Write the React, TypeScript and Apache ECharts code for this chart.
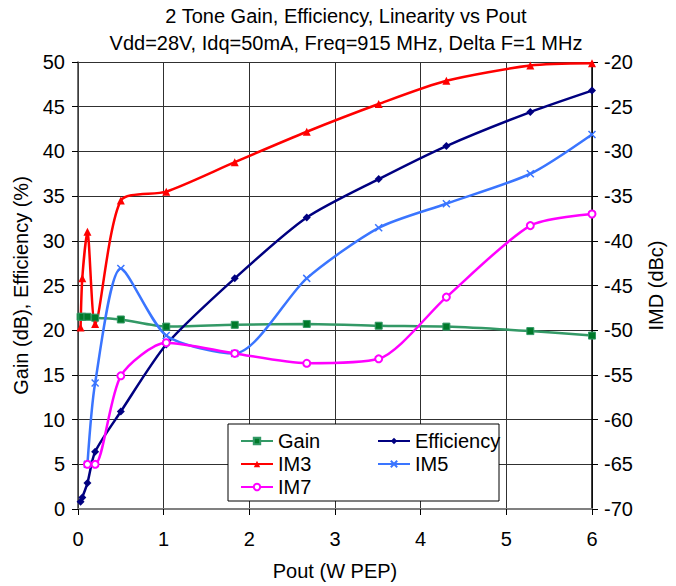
import React, { useEffect, useRef } from "react";
import * as echarts from "echarts";

const pout = [0.03, 0.05, 0.11, 0.2, 0.5, 1.03, 1.83, 2.67, 3.51, 4.3, 5.28, 6.0];
const gain = [21.5, 21.5, 21.5, 21.4, 21.2, 20.4, 20.6, 20.7, 20.5, 20.4, 19.9, 19.4];
const efficiency = [0.8, 1.3, 2.9, 6.4, 10.9, 18.4, 25.8, 32.6, 36.9, 40.6, 44.4, 46.8];
const im3 = [-49.7, -44.2, -39.0, -49.3, -35.5, -34.5, -31.2, -27.8, -24.7, -22.1, -20.4, -20.15];
const im5 = [null, null, -65, -55.9, -43.1, -50.6, -52.6, -44.2, -38.55, -35.85, -32.5, -28.1];
const im7 = [null, null, -65, -65, -55.1, -51.4, -52.6, -53.7, -53.2, -46.3, -38.3, -37.0];

const titleLines = [
  "2 Tone Gain, Efficiency, Linearity vs Pout",
  "Vdd=28V, Idq=50mA, Freq=915 MHz, Delta F=1 MHz",
];

const FONT = "'Liberation Sans', Arial, sans-serif";

function pairs(ys: (number | null)[]) {
  const out: [number, number][] = [];
  ys.forEach((y, i) => {
    if (y !== null) out.push([pout[i], y]);
  });
  return out;
}

export default function App() {
  const ref = useRef<HTMLDivElement>(null);
  useEffect(() => {
    if (!ref.current) return;
    const chart = echarts.init(ref.current, null, { renderer: "svg" });
    const lineW = 2.5;
    const smooth = 0.25;
    const legendText = { fontFamily: FONT, fontSize: 20, color: "#000", lineHeight: 20 };
    chart.setOption({
      animation: false,
      backgroundColor: "#fff",
      textStyle: { fontFamily: FONT, color: "#000" },
      grid: { left: 78, right: 84, top: 62, bottom: 73, containLabel: false },
      xAxis: {
        type: "value",
        min: 0,
        max: 6,
        interval: 1,
        name: "Pout (W PEP)",
        nameLocation: "middle",
        nameGap: 52,
        nameTextStyle: { fontFamily: FONT, fontSize: 20, color: "#000" },
        axisLine: { show: true, lineStyle: { color: "#808080", width: 2 } },
        axisTick: { show: true, length: 6, lineStyle: { color: "#000" } },
        axisLabel: { fontFamily: FONT, fontSize: 20, color: "#000", margin: 20 },
        splitLine: { show: true, lineStyle: { color: "#303030", width: 1 } },
      },
      yAxis: [
        {
          type: "value",
          min: 0,
          max: 50,
          interval: 5,
          position: "left",
          name: "Gain (dB), Efficiency (%)",
          nameLocation: "middle",
          nameGap: 47,
          nameRotate: 90,
          nameTextStyle: { fontFamily: FONT, fontSize: 20, color: "#000" },
          axisLine: { show: true, lineStyle: { color: "#404040", width: 1.5 } },
          axisTick: { show: true, length: 6, lineStyle: { color: "#000" } },
          axisLabel: { fontFamily: FONT, fontSize: 20, color: "#000", margin: 13 },
          splitLine: { show: true, lineStyle: { color: "#303030", width: 1 } },
        },
        {
          type: "value",
          min: -70,
          max: -20,
          interval: 5,
          position: "right",
          name: "IMD (dBc)",
          nameLocation: "middle",
          nameGap: 54,
          nameRotate: 90,
          nameTextStyle: { fontFamily: FONT, fontSize: 20, color: "#000" },
          axisLine: { show: true, lineStyle: { color: "#000", width: 1.5 } },
          axisTick: { show: true, length: 6, lineStyle: { color: "#000" } },
          axisLabel: { fontFamily: FONT, fontSize: 20, color: "#000", margin: 12 },
          splitLine: { show: false },
        },
      ],
      legend: [
        {
          orient: "vertical",
          left: 235,
          top: 426,
          itemWidth: 32,
          itemHeight: 8,
          itemGap: 3,
          textStyle: legendText,
          data: ["Gain", "IM3", "IM7"],
          z: 10,
        },
        {
          orient: "vertical",
          left: 372,
          top: 426,
          itemWidth: 32,
          itemHeight: 8,
          itemGap: 3,
          textStyle: legendText,
          data: ["Efficiency", "IM5"],
          z: 10,
        },
      ],
      graphic: [
        {
          type: "text",
          x: 346,
          y: 16,
          style: {
            text: titleLines[0],
            textAlign: "center",
            textVerticalAlign: "middle",
            fontFamily: FONT,
            fontSize: 20,
            fill: "#000",
          },
        },
        {
          type: "text",
          x: 346,
          y: 43,
          style: {
            text: titleLines[1],
            textAlign: "center",
            textVerticalAlign: "middle",
            fontFamily: FONT,
            fontSize: 20,
            fill: "#000",
          },
        },
        {
          type: "rect",
          z: 5,
          shape: { x: 228, y: 424, width: 271, height: 77 },
          style: { fill: "#fff", stroke: "#000", lineWidth: 1 },
        },
      ],
      series: [
        {
          name: "Gain",
          type: "line",
          yAxisIndex: 0,
          smooth,
          data: pairs(gain),
          symbol: "rect",
          symbolSize: 7,
          lineStyle: { color: "#339966", width: lineW },
          itemStyle: { color: "#007a2a", borderColor: "#339966", borderWidth: 1 },
        },
        {
          name: "Efficiency",
          type: "line",
          yAxisIndex: 0,
          smooth,
          data: pairs(efficiency),
          symbol: "diamond",
          symbolSize: 8,
          lineStyle: { color: "#000080", width: lineW },
          itemStyle: { color: "#000080" },
        },
        {
          name: "IM3",
          type: "line",
          yAxisIndex: 1,
          smooth,
          data: pairs(im3),
          symbol: "triangle",
          symbolSize: 8,
          lineStyle: { color: "#ff0000", width: lineW },
          itemStyle: { color: "#ff0000" },
        },
        {
          name: "IM5",
          type: "line",
          yAxisIndex: 1,
          smooth,
          data: pairs(im5),
          symbol: "path://M0,0L10,10M10,0L0,10",
          symbolSize: 7,
          lineStyle: { color: "#3a75ff", width: lineW },
          itemStyle: { color: "none", borderColor: "#3a75ff", borderWidth: 1.5 },
        },
        {
          name: "IM7",
          type: "line",
          yAxisIndex: 1,
          smooth,
          data: pairs(im7),
          symbol: "emptyCircle",
          symbolSize: 7,
          lineStyle: { color: "#ff00ff", width: lineW },
          itemStyle: { color: "#ff00ff", borderWidth: 1.5 },
        },
      ],
    });
    return () => chart.dispose();
  }, []);
  return (
    <div
      ref={ref}
      style={{ position: "fixed", left: 0, top: 0, width: 676, height: 586 }}
    />
  );
}
